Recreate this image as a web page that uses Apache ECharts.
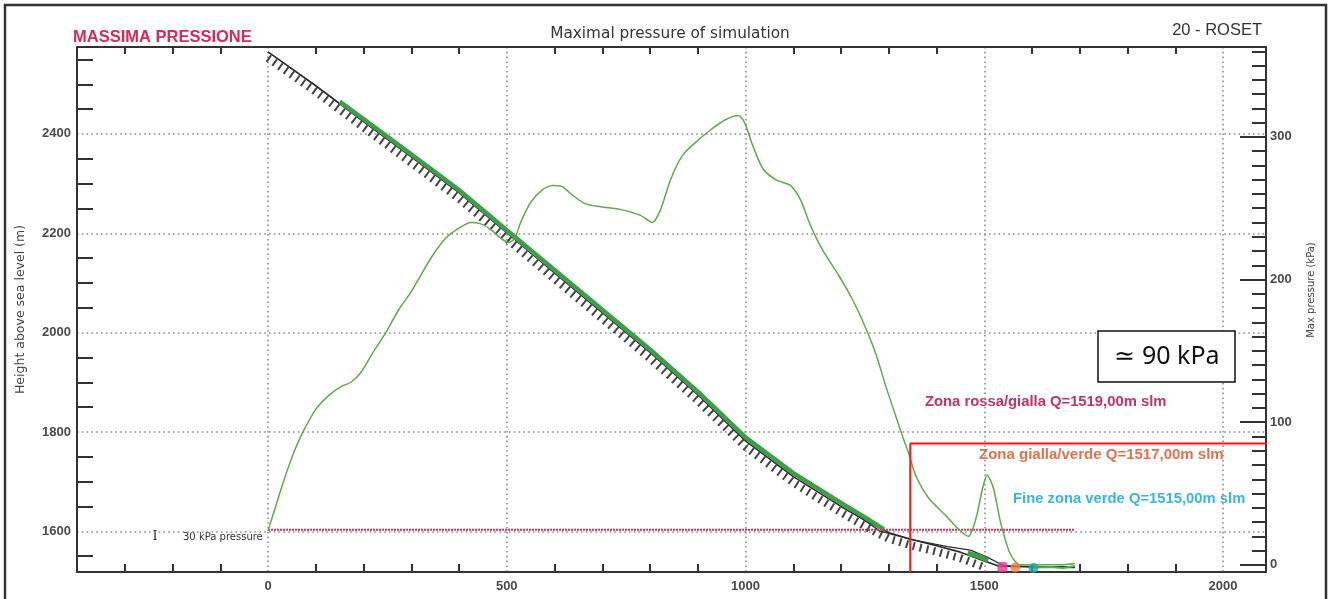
<!DOCTYPE html>
<html><head><meta charset="utf-8">
<script src="https://cdn.jsdelivr.net/npm/echarts@6/dist/echarts.min.js"></script>
<style>html,body{margin:0;padding:0;background:#fff}#c{width:1330px;height:599px}</style>
</head><body><div id="c"></div>
<script>
// ---- data ----
const terrainX = [0, 100, 200, 300, 400, 500, 600, 700, 800, 900, 1000, 1100, 1200, 1250, 1300, 1350, 1400, 1450, 1500, 1530, 1600, 1690];
const terrainH = [2565, 2497, 2425, 2354, 2282, 2201, 2120, 2040, 1960, 1875, 1782, 1710, 1650, 1622, 1597, 1583, 1571, 1558, 1540, 1530, 1528, 1527];
const hatchX = [0, 100, 200, 300, 400, 500, 600, 700, 800, 900, 1000, 1100, 1200, 1250, 1300, 1350, 1400, 1450, 1500];
const hatchH = [2565, 2497, 2425, 2354, 2282, 2201, 2120, 2040, 1960, 1875, 1782, 1710, 1650, 1622, 1597, 1583, 1571, 1558, 1540];
const flowX = [150, 200, 300, 400, 500, 600, 700, 800, 900, 1000, 1100, 1200, 1250, 1290];
const flowH = [2465, 2430, 2359, 2287, 2206, 2126, 2046, 1966, 1881, 1789, 1717, 1657, 1628, 1604];
const flow2X = [1465, 1490, 1508];
const flow2H = [1556, 1549, 1541];
const flow3X = [1603, 1640, 1665, 1690];
const flow3H = [1527, 1528, 1526, 1530];
const depositX = [1220, 1282, 1345, 1423, 1471, 1506, 1540, 1600, 1690];
const depositH = [1642, 1600, 1584, 1569, 1562, 1548, 1531, 1529, 1529];
const pressX = [0,17,34,52,73, 100,128,153,174,195, 220,247,274,299,320, 345,372,400,425,446, 467,487,504,517,529, 550,575,596,617,638, 665,697,739,780,805, 822,843,868,895,927, 958,985,998,1015,1036, 1063,1094,1115,1136,1161, 1195,1224,1253,1274,1293, 1314,1331,1341,1356,1383, 1418,1446,1467,1483,1496, 1506,1519,1534,1554,1575, 1617,1659,1690];
const pressY = [24,42,60,77,93, 109,119,125,128,135, 149,163,179,191,203, 217,229,236,240,239, 235,229,226,229,240, 254,263,266,265,259, 253,251,249,245,240, 249,270,287,296,305, 312,315,310,294,278, 270,266,256,238,221, 203,186,165,147,126, 105,88,79,63,47, 35,25,20,33,53, 63,54,30,8,0, 0,0,1];
const threshX = [0, 1690];
const threshH = [1603, 1603];
const redX = [1345, 1345, 2098];
const redP = [-5, 85, 85];
const zoneDots = [
  {name: 'Zona rossa/gialla', x: 1538, h: 1528, color: '#e23a8c', symbol: 'roundRect'},
  {name: 'Zona gialla/verde', x: 1565, h: 1527, color: '#f07c45', symbol: 'circle'},
  {name: 'Fine zona verde', x: 1603, h: 1526, color: '#22aaa0', symbol: 'circle'}
];
const xTickValues = [-300,-200,-100,100,200,300,400,600,700,800,900,1100,1200,1300,1400,1600,1700,1800,1900];
const xLabelValues = [0, 500, 1000, 1500, 2000];
const hTickValues = [1550,1650,1700,1750,1850,1900,1950,2050,2100,2150,2250,2300,2350,2450,2500,2550];
const hLabelValues = [1600, 1800, 2000, 2200, 2400];
const pMajorValues = [0, 100, 200, 300];
const pMinorValues = [10,20,30,40,50,60,70,80,90,110,120,130,140,150,160,170,180,190,210,220,230,240,250,260,270,280,290,310,320,330,340,350,360];

const X_MIN = -400, X_MAX = 2090, H_MIN = 1518, H_MAX = 2575, P_MIN = -5, P_MAX = 363;
const zip = (a, b) => a.map((v, i) => [v, b[i]]);
const AX = '#333';
const plain = v => String(v);
const labelStyle = {color: '#4a4a4a', fontFamily: 'Liberation Sans', fontWeight: 'bold', fontSize: 13, formatter: plain};

const chart = echarts.init(document.getElementById('c'));
const baseX = {type: 'value', min: X_MIN, max: X_MAX, gridIndex: 0, splitLine: {show: false}};
const baseH = {type: 'value', min: H_MIN, max: H_MAX, gridIndex: 0, splitLine: {show: false}};
const baseP = {type: 'value', min: P_MIN, max: P_MAX, gridIndex: 0, splitLine: {show: false}};

chart.setOption({
  animation: false,
  backgroundColor: '#fff',
  grid: [
    {left: 77, right: 64, top: 47, bottom: 27, outerBoundsMode: 'none', containLabel: false},
    {left: 77, right: 64, top: 53, bottom: 21, outerBoundsMode: 'none', containLabel: false}
  ],
  xAxis: [
    Object.assign({}, baseX, {position: 'bottom',
      axisLine: {onZero: false, lineStyle: {color: AX, width: 2}},
      axisTick: {show: true, inside: true, length: 8, customValues: xTickValues, lineStyle: {color: AX, width: 2}},
      axisLabel: Object.assign({customValues: xLabelValues, margin: 8}, labelStyle)}),
    Object.assign({}, baseX, {position: 'top',
      axisLine: {onZero: false, lineStyle: {color: AX, width: 2}},
      axisTick: {show: true, inside: true, length: 7, customValues: xTickValues, lineStyle: {color: AX, width: 2}},
      axisLabel: {show: false}}),
    Object.assign({}, baseX, {position: 'bottom',
      axisLine: {show: false, onZero: false}, axisTick: {show: false}, axisLabel: {show: false},
      splitLine: {show: true, showMinLine: false, showMaxLine: false, lineStyle: {color: '#8a8a8a', width: 1.6, type: [1.6, 3.2]}}}),
    Object.assign({}, baseX, {gridIndex: 1, show: false, axisLine: {onZero: false}})
  ],
  yAxis: [
    Object.assign({}, baseH, {position: 'left', offset: 0,
      name: 'Height above sea level (m)', nameLocation: 'middle', nameGap: 50, nameRotate: 90, nameMoveOverlap: false,
      nameTextStyle: {fontFamily: 'DejaVu Sans', fontSize: 12.5, color: '#444'},
      axisLine: {onZero: false, lineStyle: {color: AX, width: 2}},
      axisTick: {show: false},
      axisLabel: Object.assign({customValues: hLabelValues, margin: 6}, labelStyle),
      splitLine: {show: true, showMinLine: false, showMaxLine: false, lineStyle: {color: '#8a8a8a', width: 1.6, type: [1.6, 3.2]}}}),
    Object.assign({}, baseH, {position: 'left', offset: 0,
      axisLine: {show: false, onZero: false},
      axisTick: {show: true, inside: true, length: 16, customValues: hTickValues, lineStyle: {color: AX, width: 2}},
      axisLabel: {show: false}}),
    Object.assign({}, baseP, {position: 'right', offset: 0,
      axisLine: {onZero: false, lineStyle: {color: AX, width: 2}},
      axisTick: {show: true, inside: true, length: 26, customValues: pMajorValues, lineStyle: {color: AX, width: 2}},
      axisLabel: Object.assign({customValues: pMajorValues, margin: 4}, labelStyle)}),
    Object.assign({}, baseP, {position: 'right', offset: 0,
      axisLine: {show: false, onZero: false},
      axisTick: {show: true, inside: true, length: 14, customValues: pMinorValues, lineStyle: {color: AX, width: 2}},
      axisLabel: {show: false}}),
    Object.assign({}, baseH, {gridIndex: 1, show: false, axisLine: {onZero: false}})
  ],
  series: [
    {type: 'line', name: 'hatch', xAxisIndex: 3, yAxisIndex: 4, data: zip(hatchX, hatchH), symbol: 'none', z: 1,
      lineStyle: {color: '#444', width: 8, type: [2, 5]}},
    {type: 'line', name: 'terrain', xAxisIndex: 0, yAxisIndex: 0, data: zip(terrainX, terrainH), symbol: 'none', z: 2,
      lineStyle: {color: '#2a2a2a', width: 1.6}},
    {type: 'line', name: 'deposit', xAxisIndex: 0, yAxisIndex: 0, data: zip(depositX, depositH), symbol: 'none', z: 2,
      lineStyle: {color: '#2a2a2a', width: 1.2}},
    {type: 'line', name: 'flow', xAxisIndex: 0, yAxisIndex: 0, data: zip(flowX, flowH), symbol: 'none', z: 3,
      lineStyle: {color: '#3d9f48', width: 4.5}},
    {type: 'line', name: 'flow2', xAxisIndex: 0, yAxisIndex: 0, data: zip(flow2X, flow2H), symbol: 'none', z: 3,
      lineStyle: {color: '#3d9f48', width: 5}},
    {type: 'line', name: 'flow3', xAxisIndex: 0, yAxisIndex: 0, data: zip(flow3X, flow3H), symbol: 'none', z: 3,
      lineStyle: {color: '#4caf50', width: 2}},
    {type: 'line', name: '30 kPa', xAxisIndex: 0, yAxisIndex: 0, data: zip(threshX, threshH), symbol: 'none', z: 4,
      lineStyle: {color: '#c8305c', width: 2, type: [2, 1]}},
    {type: 'line', name: 'pressure', xAxisIndex: 0, yAxisIndex: 2, data: zip(pressX, pressY), symbol: 'none', smooth: 0.25, z: 5,
      lineStyle: {color: '#62a84e', width: 1.5}},
    {type: 'line', name: 'limit', xAxisIndex: 0, yAxisIndex: 2, data: zip(redX, redP), symbol: 'none', clip: false, z: 6,
      lineStyle: {color: '#ff1414', width: 2}},
    {type: 'scatter', name: 'zones', xAxisIndex: 0, yAxisIndex: 0, z: 7, symbolSize: 10,
      data: zoneDots.map(d => ({value: [d.x, d.h], symbol: d.symbol, itemStyle: {color: d.color}}))}
  ],
  graphic: [
    {type: 'rect', shape: {x: 5, y: 5, width: 1321, height: 620}, style: {fill: 'none', stroke: '#333', lineWidth: 2.5}, z: 100},
    {type: 'text', x: 73, y: 37, style: {text: 'MASSIMA PRESSIONE', fill: '#d62a55', font: 'bold 16.5px "Liberation Sans"', textAlign: 'left', textVerticalAlign: 'middle'}},
    {type: 'text', x: 670, y: 34, style: {text: 'Maximal pressure of simulation', fill: '#333', font: '15.3px "DejaVu Sans"', textAlign: 'center', textVerticalAlign: 'middle'}},
    {type: 'text', x: 1262, y: 30, style: {text: '20 - ROSET', fill: '#333', font: '16.5px "Liberation Sans"', textAlign: 'right', textVerticalAlign: 'middle'}},
    {type: 'text', x: 1311, y: 290, rotation: Math.PI / 2, style: {text: 'Max pressure (kPa)', fill: '#444', font: '10px "DejaVu Sans"', textAlign: 'center', textVerticalAlign: 'middle'}},
    {type: 'text', x: 155, y: 537, style: {text: 'I', fill: '#333', font: '13px "DejaVu Serif"', textAlign: 'center', textVerticalAlign: 'middle'}},
    {type: 'text', x: 183, y: 537, style: {text: '30 kPa pressure', fill: '#333', font: '10px "DejaVu Sans"', textAlign: 'left', textVerticalAlign: 'middle'}},
    {type: 'text', x: 925, y: 402, style: {text: 'Zona rossa/gialla Q=1519,00m slm', fill: '#c2306e', font: 'bold 14.8px "Liberation Sans"', textAlign: 'left', textVerticalAlign: 'middle'}},
    {type: 'text', x: 979, y: 455, style: {text: 'Zona gialla/verde Q=1517,00m slm', fill: '#e2704e', font: 'bold 15px "Liberation Sans"', textAlign: 'left', textVerticalAlign: 'middle'}},
    {type: 'text', x: 1013, y: 499, style: {text: 'Fine zona verde Q=1515,00m slm', fill: '#3ab4e6', font: 'bold 14.8px "Liberation Sans"', textAlign: 'left', textVerticalAlign: 'middle'}},
    {type: 'rect', shape: {x: 1098, y: 331, width: 137, height: 51}, style: {fill: '#fff', stroke: '#111', lineWidth: 1.5}, z: 50},
    {type: 'text', x: 1167, y: 357, z: 51, style: {text: '≃ 90 kPa', fill: '#111', font: '25px "Noto Sans"', textAlign: 'center', textVerticalAlign: 'middle'}}
  ]
});
</script></body></html>
